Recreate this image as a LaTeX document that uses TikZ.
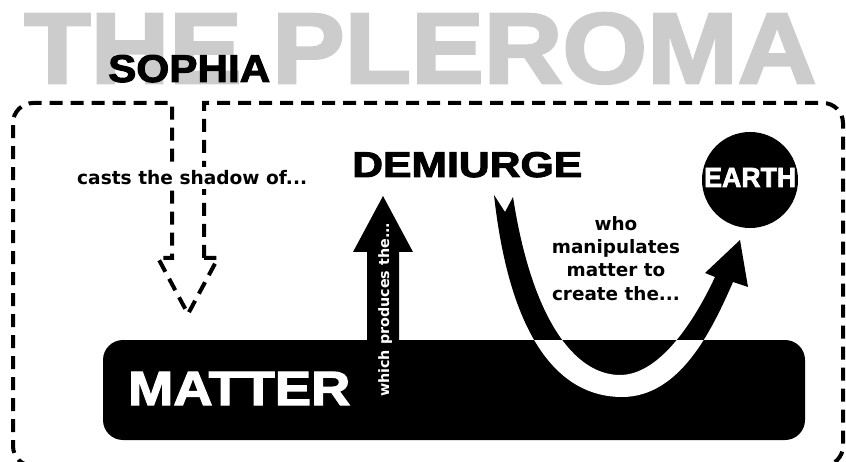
\documentclass[tikz,border=0pt]{standalone}
\usepackage{fontspec}
\setmainfont{Liberation Sans}
\newfontfamily\heavyfont{Liberation Sans}[FakeBold=2.5]
\newfontfamily\dvs{DejaVu Sans}
\usepackage{graphicx}
\definecolor{titlegray}{HTML}{CCCCCC}
\newcommand\ubandpath{(494,195) -- (505,212) -- (513,197) .. controls (532,320) and (575,375) .. (620,375) .. controls (660,375) and (695,320) .. (715,277) -- (705,273) -- (740,240) -- (748,287) -- (733,282) .. controls (712,330) and (680,397) .. (622,397) .. controls (560,397) and (510,340) .. (494,195) -- cycle}
\begin{document}
\begin{tikzpicture}[x=1pt,y=-1pt,
  bigtxt/.style={inner sep=0pt, anchor=base west, font=\heavyfont\bfseries},
  smalltxt/.style={font=\dvs\bfseries\fontsize{18.6}{23.3}\selectfont},
  dashline/.style={line width=4pt, dash pattern=on 13pt off 8pt}]
\useasboundingbox (0,0) rectangle (846,462);
% title
\node[bigtxt, text=titlegray] (title) at (24,83) {\resizebox{792pt}{70pt}{THE PLEROMA}};
\node[bigtxt] (sophia) at (108,82) {\resizebox{162pt}{27pt}{SOPHIA}};
% dashed pleroma boundary with shadow arrow
\draw[dashline] (204,258) -- (204,103) -- (823,103)
  .. controls (834,103) and (843,112) .. (843,123) -- (843,446)
  .. controls (843,457) and (834,466) .. (823,466) -- (33,466)
  .. controls (22,466) and (13,457) .. (13,446) -- (13,123)
  .. controls (13,112) and (22,103) .. (33,103) -- (172,103)
  -- (172,258) -- (158,258) -- (188,314) -- (218,258) -- cycle;
\node[smalltxt, anchor=base west, fill=white, inner sep=4pt] (casts) at (73,185) {casts the shadow of...};
% matter
\fill[rounded corners=20pt] (103,340) rectangle (805,440);
\node[bigtxt, text=white] (matter) at (128,405) {\resizebox{222pt}{33pt}{MATTER}};
% up arrow
\fill (367,345) -- (367,252) -- (353,252) -- (383,196) -- (413,252) -- (399,252) -- (399,345) -- cycle;
\node[rotate=90, anchor=base west, inner sep=0pt, text=white, font=\dvs\bfseries\fontsize{14.3}{17}\selectfont] (which) at (389,397) {which produces the...};
% U band
\fill \ubandpath;
\begin{scope}
  \clip[rounded corners=20pt] (103,340) rectangle (805,440);
  \fill[white] \ubandpath;
\end{scope}
% demiurge
\node[bigtxt] (demiurge) at (352,177) {\resizebox{230pt}{25pt}{DEMIURGE}};
% earth
\fill (750,180) circle[radius=48];
\node[bigtxt, text=white] (earth) at (704,187) {\resizebox{92pt}{19pt}{EARTH}};
\node[smalltxt, align=center, anchor=north, inner sep=0pt, font=\dvs\bfseries\fontsize{18.4}{23.3}\selectfont] (who) at (616,216) {who\\manipulates\\matter to\\create the...};
\end{tikzpicture}
\end{document}
